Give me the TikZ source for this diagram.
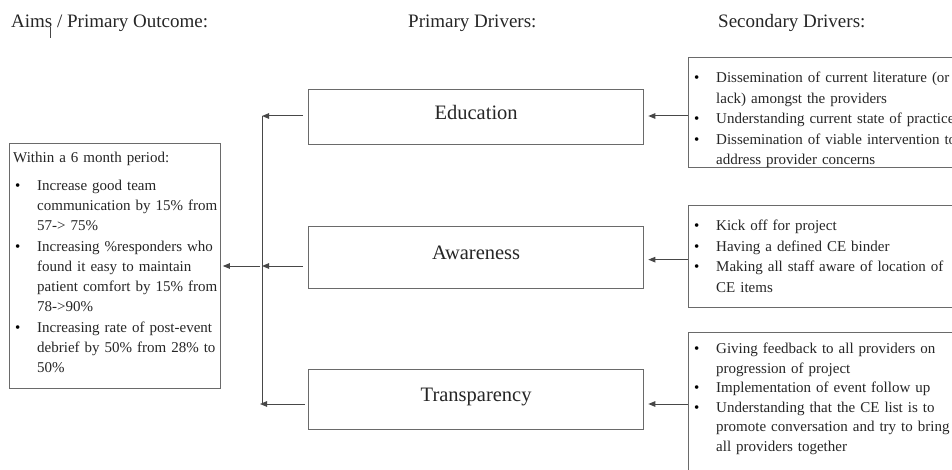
\documentclass[tikz,border=0pt]{standalone}
\usepackage{fontspec}
\setmainfont{Liberation Serif}
\usetikzlibrary{arrows.meta}

\definecolor{ink}{HTML}{262626}
\definecolor{framecol}{HTML}{6A6A6A}
\definecolor{wirecol}{HTML}{474747}

% bullet item with hanging indent
\newcommand{\bitem}{\par\hangindent=24pt\hangafter=1\noindent\makebox[24pt][l]{\hspace{2pt}\textcolor{black}{\textbullet}}}

\tikzset{
  boxframe/.style={draw=framecol, line width=1.3pt, inner sep=0pt, anchor=north west},
  head/.style={text=ink, font=\fontsize{19}{23}\selectfont, inner sep=0pt, anchor=base west},
  drivertext/.style={text=ink, font=\fontsize{20.5}{24}\selectfont, text height=8pt, text depth=4pt},
  listtext/.style={text=ink, font=\fontsize{15}{20}\selectfont, inner sep=0pt, anchor=north west},
  wire/.style={draw=wirecol, line width=1pt},
  arr/.style={wire, -{Triangle[length=7pt,width=5.5pt]}}
}

\begin{document}
\begin{tikzpicture}[x=1pt,y=-1pt]
\useasboundingbox (0,0) rectangle (952,470);
\clip (0,0) rectangle (952,470);
\fill[white] (0,0) rectangle (952,470);

% column headings
\node[head] (hAim) at (11,28) {Aims / Primary Outcome:};
\node[head] (hPri) at (408,28) {Primary Drivers:};
\node[head] (hSec) at (718,28) {Secondary Drivers:};
\draw[wirecol, line width=0.8pt] (50,27) -- (50,38);

% aim box
\node[boxframe, minimum width=211pt, minimum height=245pt] (aim) at (9,143) {};
\node[listtext, text width=205pt] (aimtxt) at (13,148) {\raggedright
\noindent\strut Within a 6 month period:\par\vspace{8pt}%
\bitem Increase good team\newline communication by 15\% from\newline 57-> 75\%\par\vspace{1pt}%
\bitem Increasing \%responders who\newline found it easy to maintain\newline patient comfort by 15\% from\newline 78->90\%\par\vspace{1pt}%
\bitem Increasing rate of post-event\newline debrief by 50\% from 28\% to\newline 50\%\par};

% primary drivers
\node[boxframe, minimum width=335pt, minimum height=55pt] (edu) at (308,89) {};
\node[drivertext] (edut) at (edu.center) {Education};
\node[boxframe, minimum width=335pt, minimum height=62pt] (aw) at (308,226) {};
\node[drivertext] (awt) at (aw.center) {Awareness};
\node[boxframe, minimum width=335pt, minimum height=60pt] (tr) at (308,369) {};
\node[drivertext] (trt) at (tr.center) {Transparency};

% secondary drivers
\node[boxframe, minimum width=290pt, minimum height=110pt] (s1) at (688,57) {};
\node[listtext, text width=280pt, font=\fontsize{15}{20.5}\selectfont] (s1t) at (692,62) {\raggedright
\bitem \strut Dissemination of current literature (or\newline lack) amongst the providers
\bitem Understanding current state of practice
\bitem Dissemination of viable intervention to\newline address provider concerns\par};

\node[boxframe, minimum width=290pt, minimum height=102pt] (s2) at (688,205) {};
\node[listtext, text width=280pt, font=\fontsize{15}{20.5}\selectfont] (s2t) at (692,210) {\raggedright
\bitem \strut Kick off for project
\bitem Having a defined CE binder
\bitem Making all staff aware of location of\newline CE items\par};

\node[boxframe, minimum width=290pt, minimum height=170pt] (s3) at (688,332) {};
\node[listtext, text width=280pt, font=\fontsize{15}{19.5}\selectfont] (s3t) at (692,334) {\raggedright
\bitem \strut Giving feedback to all providers on\newline progression of project
\bitem Implementation of event follow up
\bitem Understanding that the CE list is to\newline promote conversation and try to bring\newline all providers together\par};

% collecting bus
\coordinate (bt) at (262,116);
\coordinate (bm) at (262,266);
\coordinate (bb) at (262,404);
\draw[wire] (bt) -- (bb);

% primary drivers into the bus
\draw[arr, shorten <=5pt] (edu.west |- bt) -- (bt);
\draw[arr, shorten <=5pt] (aw.west |- bm) -- (bm);
\draw[arr, shorten <=3pt, shorten >=-2pt] (tr.west |- bb) -- (bb);

% bus into the aim
\draw[arr, shorten <=2pt, shorten >=1.5pt] (bm) -- (aim.east |- bm);

% secondary drivers into primary drivers
\draw[arr, shorten >=4pt] (s1.west |- bt) -- (edu.east |- bt);
\draw[arr, shorten >=4pt] ([yshift=-2pt]s2.west |- aw.east) -- ([yshift=-2pt]aw.east);
\draw[arr, shorten >=4pt] (s3.west |- bb) -- (tr.east |- bb);
\end{tikzpicture}
\end{document}
